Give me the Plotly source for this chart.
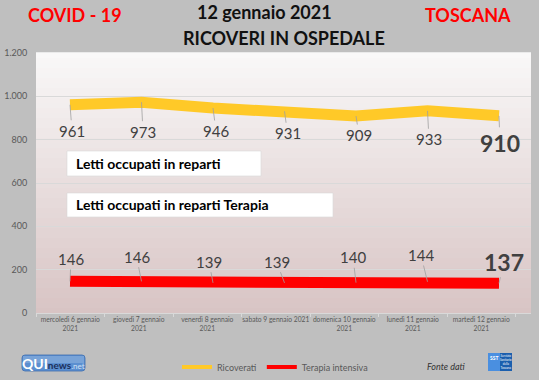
import plotly.graph_objects as go

# ---- data ----
dates = ["mercoledì 6 gennaio<br>2021", "giovedì 7 gennaio<br>2021",
         "venerdì 8 gennaio<br>2021", "sabato 9 gennaio 2021",
         "domenica 10 gennaio<br>2021", "lunedì 11 gennaio<br>2021",
         "martedì 12 gennaio<br>2021"]
ricoverati = [961, 973, 946, 931, 909, 933, 910]
terapia = [146, 146, 139, 139, 140, 144, 137]
series_names = ["Ricoverati", "Terapia intensiva"]

# ---- styling / layout helpers ----
W, H = 539, 380
L, R, T, B = 36, 531, 53, 313
FONT = 'Lato, "Open Sans", sans-serif'
YEL, RED = "#ffc928", "#ff0000"
GRAY_TXT = "#595959"
BG = "#bfbfbf"


def px(x):
    return (x - L) / (R - L)


def py(y):
    return (B - y) / (B - T)


# label offsets (pixels) for data labels
r_dx = [2, 1.5, 3, 3, 3, 1.5, 1]
r_dy = [26, 29.5, 23, 22, 19, 28.4, 27]
t_dx = [1, -5, -4, -8, -3, -6.5, 5]
t_dy = [-22.4, -24.7, -21.2, -21.2, -25.4, -26.8, -21.6]

xi = list(range(len(dates)))

fig = go.Figure()
fig.add_trace(go.Scatter(x=xi, y=ricoverati, mode="lines", name=series_names[0],
                         line=dict(color=YEL, width=11), xaxis="x", yaxis="y",
                         showlegend=False, legendgroup="r", hoverinfo="skip"))
fig.add_trace(go.Scatter(x=xi, y=terapia, mode="lines", name=series_names[1],
                         line=dict(color=RED, width=11), xaxis="x", yaxis="y",
                         showlegend=False, legendgroup="t", hoverinfo="skip"))
# legend entries (thinner key lines, as in the original legend)
fig.add_trace(go.Scatter(x=[None], y=[None], mode="lines", name=series_names[0],
                         line=dict(color=YEL, width=4), legendgroup="r", hoverinfo="skip"))
fig.add_trace(go.Scatter(x=[None], y=[None], mode="lines", name=series_names[1],
                         line=dict(color=RED, width=4), legendgroup="t", hoverinfo="skip"))
# category axis carrier for the date labels
fig.add_trace(go.Scatter(x=dates, y=[None] * len(dates), mode="lines",
                         xaxis="x2", yaxis="y", showlegend=False, hoverinfo="skip"))

shapes = []
# gradient plot background
n = 52
top = (249, 248, 248)
bot = (216, 196, 196)
for k in range(n):
    f = (k + 0.5) / n
    c = tuple(round(bot[j] + (top[j] - bot[j]) * f) for j in range(3))
    shapes.append(dict(type="rect", xref="paper", yref="paper", x0=0, x1=1,
                       y0=k / n, y1=(k + 1) / n + 0.003, layer="below",
                       line=dict(width=0), fillcolor="rgb(%d,%d,%d)" % c))

# white text boxes
shapes.append(dict(type="rect", xref="paper", yref="paper", x0=px(67), x1=px(261),
                   y0=py(176), y1=py(151), fillcolor="white",
                   line=dict(color="#d9d9d9", width=0.6), layer="above"))
shapes.append(dict(type="rect", xref="paper", yref="paper", x0=px(67), x1=px(333),
                   y0=py(217), y1=py(193), fillcolor="white",
                   line=dict(color="#d9d9d9", width=0.6), layer="above"))

# logos
shapes.append(dict(type="path", xref="paper", yref="paper",
                   path="M %f,%f L %f,%f Q %f,%f %f,%f L %f,%f Q %f,%f %f,%f L %f,%f Q %f,%f %f,%f L %f,%f Q %f,%f %f,%f Z" % (
                       px(25), py(355), px(82), py(355), px(85), py(355), px(85), py(358),
                       px(85), py(368), px(85), py(371), px(82), py(371),
                       px(25), py(371), px(22), py(371), px(22), py(368),
                       px(22), py(358), px(22), py(355), px(25), py(355)),
                   fillcolor="#5b8fd0", line=dict(color="#3f6fb0", width=0.8), layer="above"))
shapes.append(dict(type="rect", xref="paper", yref="paper", x0=px(23), x1=px(84),
                   y0=py(363), y1=py(356), fillcolor="rgba(255,255,255,0.18)",
                   line=dict(width=0), layer="above"))
shapes.append(dict(type="rect", xref="paper", yref="paper", x0=px(488), x1=px(500),
                   y0=py(371), y1=py(353), fillcolor="#4a8fe0",
                   line=dict(width=0), layer="above"))
shapes.append(dict(type="rect", xref="paper", yref="paper", x0=px(500), x1=px(512),
                   y0=py(371), y1=py(353), fillcolor="#1b5fae",
                   line=dict(width=0), layer="above"))

ann = []
# titles
ann.append(dict(text="<b>COVID - 19</b>", x=px(74.5), y=py(15), font=dict(size=18, color="#ff0000")))
ann.append(dict(text="<b>12 gennaio 2021</b>", x=px(264), y=py(12), font=dict(size=18, color="#111111")))
ann.append(dict(text="<b>RICOVERI IN OSPEDALE</b>", x=px(284), y=py(38), font=dict(size=18, color="#111111")))
ann.append(dict(text="<b>TOSCANA</b>", x=px(468), y=py(15), font=dict(size=18, color="#ff0000")))
for a in ann:
    a.update(xref="paper", yref="paper", showarrow=False, xanchor="center", yanchor="middle")

# box texts
ann.append(dict(text="<b>Letti occupati in reparti</b>", xref="paper", yref="paper",
                x=px(74), y=py(163.5), xanchor="left", yanchor="middle", showarrow=False,
                font=dict(size=14, color="#000000")))
ann.append(dict(text="<b>Letti occupati in reparti Terapia</b>", xref="paper", yref="paper",
                x=px(74), y=py(205), xanchor="left", yanchor="middle", showarrow=False,
                font=dict(size=14, color="#000000")))

# footer
ann.append(dict(text="<i>Fonte dati</i>", xref="paper", yref="paper", x=px(446), y=py(366),
                xanchor="center", yanchor="middle", showarrow=False,
                font=dict(size=9, color="#333333")))
ann.append(dict(text="<b><span style='font-size:14px;color:white'>QUI</span></b>"
                     "<b><span style='font-size:10px;color:#1c2f5c'>news</span></b>"
                     "<span style='font-size:8px;color:#cfe0f5'>.net</span>",
                xref="paper", yref="paper", x=px(53.5), y=py(363),
                xanchor="center", yanchor="middle", showarrow=False,
                font=dict(size=10, color="white")))
ann.append(dict(text="<b>SST</b>", xref="paper", yref="paper", x=px(494), y=py(357.5),
                xanchor="center", yanchor="middle", showarrow=False,
                font=dict(size=5, color="white")))
ann.append(dict(text="Servizio<br>Sanitario<br>della<br>Toscana", xref="paper", yref="paper",
                x=px(506), y=py(362), xanchor="center", yanchor="middle", showarrow=False,
                font=dict(size=3, color="white")))

# data labels
last = len(xi) - 1
for i, v in enumerate(ricoverati):
    big = i == last
    ann.append(dict(x=xi[i], y=v, xref="x", yref="y", text=("<b>%d</b>" % v) if big else str(v),
                    showarrow=True, arrowhead=0, arrowwidth=0.8, arrowcolor="#a0a0a0",
                    ax=r_dx[i], ay=r_dy[i], standoff=0,
                    font=dict(size=23 if big else 15, color="#404040")))
for i, v in enumerate(terapia):
    big = i == last
    ann.append(dict(x=xi[i], y=v, xref="x", yref="y", text=("<b>%d</b>" % v) if big else str(v),
                    showarrow=True, arrowhead=0, arrowwidth=0.8, arrowcolor="#a0a0a0",
                    ax=t_dx[i], ay=t_dy[i], standoff=0,
                    font=dict(size=23 if big else 15, color="#404040")))

# x-axis ranges: lines axis and label axis
line_step = 71.5
lx0 = -(70 - L) / line_step
lx1 = lx0 + (R - L) / line_step
cat_step = 68.5
cx1 = -0.5 + (R - L) / cat_step

fig.update_layout(
    width=W, height=H,
    margin=dict(l=L, r=W - R, t=T, b=H - B, autoexpand=False),
    paper_bgcolor=BG,
    plot_bgcolor="rgba(0,0,0,0)",
    font=dict(family=FONT, color=GRAY_TXT),
    separators=",.",
    showlegend=True,
    legend=dict(orientation="h", x=px(177), y=py(367), xanchor="left", yanchor="middle",
                bgcolor="rgba(0,0,0,0)", font=dict(size=9, color=GRAY_TXT),
                itemwidth=30, traceorder="normal"),
    xaxis=dict(visible=False, range=[lx0, lx1], fixedrange=True),
    xaxis2=dict(overlaying="x", side="bottom", anchor="y", type="category",
                categoryorder="array", categoryarray=dates, range=[-0.5, cx1],
                tickson="boundaries", ticks="outside", ticklen=3, tickcolor="#d9d9d9",
                showline=True, linecolor="#d9d9d9", linewidth=1, showgrid=False,
                tickangle=0, automargin=False,
                tickfont=dict(size=6.7, color=GRAY_TXT), fixedrange=True),
    yaxis=dict(range=[0, 1200], dtick=200, tick0=0, showgrid=True, gridcolor="#d9d9d9",
               gridwidth=1, zeroline=False, showline=False, separatethousands=True,
               ticks="outside", ticklen=6, tickcolor="rgba(0,0,0,0)", automargin=False,
               tickfont=dict(size=9, color=GRAY_TXT), fixedrange=True),
    shapes=shapes,
    annotations=ann,
)

fig.write_html("out.html",
               config={"displayModeBar": False},
               post_script="document.body.style.margin='0';"
                           "document.body.style.background='%s';"
                           "document.body.style.overflow='hidden';" % BG)
